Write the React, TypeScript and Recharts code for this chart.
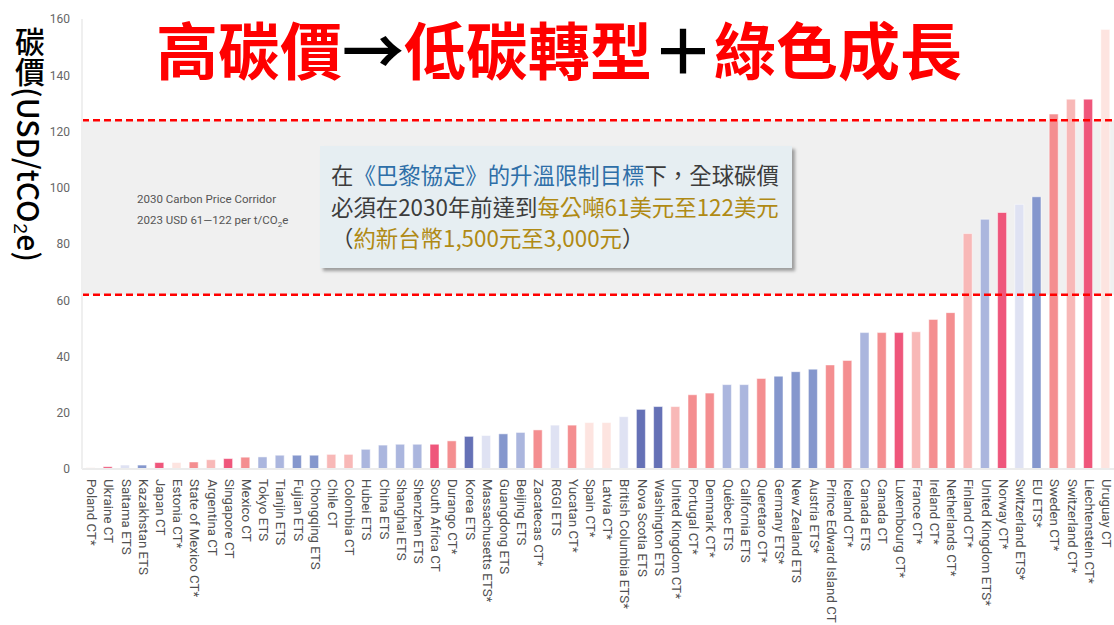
import React from 'react';
import { BarChart, Bar, Cell, XAxis, YAxis, ReferenceArea, ReferenceLine } from 'recharts';

// Carbon prices by jurisdiction (USD / tCO2e)
const jurisdictions = [
  'Poland CT*', 'Ukraine CT', 'Saitama ETS', 'Kazakhstan ETS', 'Japan CT', 'Estonia CT*',
  'State of Mexico CT*', 'Argentina CT', 'Singapore CT', 'Mexico CT', 'Tokyo ETS', 'Tianjin ETS',
  'Fujian ETS', 'Chongqing ETS', 'Chile CT', 'Colombia CT', 'Hubei ETS', 'China ETS',
  'Shanghai ETS', 'Shenzhen ETS', 'South Africa CT', 'Durango CT*', 'Korea ETS', 'Massachusetts ETS*',
  'Guangdong ETS', 'Beijing ETS', 'Zacatecas CT*', 'RGGI ETS', 'Yucatan CT*', 'Spain CT*',
  'Latvia CT*', 'British Columbia ETS*', 'Nova Scotia ETS', 'Washington ETS', 'United Kingdom CT*', 'Portugal CT*',
  'Denmark CT*', 'Québec ETS', 'California ETS', 'Queretaro CT*', 'Germany ETS*', 'New Zealand ETS',
  'Austria ETS*', 'Prince Edward Island CT', 'Iceland CT*', 'Canada ETS', 'Canada CT', 'Luxembourg CT*',
  'France CT*', 'Ireland CT*', 'Netherlands CT*', 'Finland CT*', 'United Kingdom ETS*', 'Norway CT*',
  'Switzerland ETS*', 'EU ETS*', 'Sweden CT*', 'Switzerland CT*', 'Liechtenstein CT*', 'Uruguay CT',
];

const prices = [
  0.5, 0.8, 1.4, 1.4, 2.3, 2.3,
  2.5, 3.3, 3.7, 4.2, 4.3, 4.9,
  4.9, 4.9, 5.2, 5.2, 7.0, 8.5,
  8.8, 8.8, 8.8, 10.0, 11.6, 11.9,
  12.5, 13.0, 13.9, 15.6, 15.6, 16.5,
  16.5, 18.6, 21.2, 22.2, 22.2, 26.4,
  27.0, 30.0, 30.0, 32.2, 33.0, 34.6,
  35.5, 37.0, 38.6, 48.5, 48.5, 48.5,
  48.8, 53.2, 55.6, 83.7, 88.8, 91.2,
  94.1, 96.8, 126.2, 131.5, 131.5, 156.3,
];

const tones = [
  'palePink', 'red', 'paleBlue', 'midBlue', 'red', 'palePink',
  'salmon', 'lightPink', 'red', 'salmon', 'lightBlue', 'lightBlue',
  'midBlue', 'midBlue', 'lightPink', 'lightPink', 'lightBlue', 'lightBlue',
  'lightBlue', 'lightBlue', 'red', 'salmon', 'darkBlue', 'paleBlue',
  'midBlue', 'lightBlue', 'salmon', 'paleBlue', 'salmon', 'palePink',
  'palePink', 'paleBlue', 'darkBlue', 'darkBlue', 'lightPink', 'salmon',
  'salmon', 'lightBlue', 'lightBlue', 'salmon', 'midBlue', 'midBlue',
  'midBlue', 'salmon', 'salmon', 'lightBlue', 'salmon', 'red',
  'lightPink', 'salmon', 'salmon', 'lightPink', 'lightBlue', 'red',
  'paleBlue', 'midBlue', 'salmon', 'lightPink', 'red', 'palePink',
];

const yTicks = [0, 20, 40, 60, 80, 100, 120, 140, 160];
const corridorLow = 62;
const corridorHigh = 124;

const palette: Record<string, string> = {
  palePink: '#fde4e0',
  lightPink: '#f8b8b7',
  salmon: '#f48e90',
  red: '#ef567b',
  paleBlue: '#dfe2f3',
  lightBlue: '#abb6de',
  midBlue: '#8597cd',
  darkBlue: '#6571b6',
};

const chartData = jurisdictions.map((name, i) => ({ name, price: prices[i], tone: tones[i] }));

const RotatedTick = (props: any) => {
  const { x, y, payload } = props;
  return (
    <text
      transform={`translate(${x + 1},${y}) rotate(90)`}
      textAnchor="start"
      dominantBaseline="central"
      fontSize={13.3}
      fontFamily="Roboto, sans-serif"
      fill="#505050"
    >
      {payload.value}
    </text>
  );
};

const cjk = '"Noto Sans CJK TC", "Noto Sans CJK SC", sans-serif';

export default function App() {
  return (
    <div style={{ position: 'absolute', left: 0, top: 0, width: 1114, height: 625, background: '#fff', overflow: 'hidden' }}>
      <BarChart
        width={1114}
        height={625}
        data={chartData}
        margin={{ top: 19, right: 0, left: 0, bottom: 0 }}
        barCategoryGap={4}
      >
        <ReferenceArea y1={corridorLow} y2={corridorHigh} fill="#f0f0f0" fillOpacity={1} stroke="none" />
        <XAxis
          dataKey="name"
          interval={0}
          height={156}
          tick={<RotatedTick />}
          tickLine={false}
          tickSize={0}
          tickMargin={10}
          axisLine={{ stroke: '#ececec', strokeWidth: 2 }}
        />
        <YAxis
          domain={[0, 160]}
          ticks={yTicks}
          width={82}
          tickLine={false}
          tickMargin={6}
          axisLine={{ stroke: '#efefef', strokeWidth: 2 }}
          tick={{ fontSize: 12, fill: '#666', fontFamily: 'Roboto, sans-serif' }}
        />
        <Bar dataKey="price" isAnimationActive={false} stroke="#ffffff" strokeOpacity={0.5} strokeWidth={1}>
          {chartData.map((d) => (
            <Cell key={d.name} fill={palette[d.tone]} />
          ))}
        </Bar>
        <ReferenceLine y={corridorHigh} stroke="#ff0000" strokeWidth={2.5} strokeDasharray="7 4" />
        <ReferenceLine y={corridorLow} stroke="#ff0000" strokeWidth={2.5} strokeDasharray="7 4" />
      </BarChart>

      {/* headline */}
      <div
        style={{
          position: 'absolute', left: 2, top: 8, width: 1114, textAlign: 'center',
          fontFamily: cjk, fontWeight: 700, fontSize: 62, lineHeight: '80px', color: '#ff0000', whiteSpace: 'nowrap',
        }}
      >
        高碳價<span style={{ color: '#000' }}>→</span>低碳轉型<span style={{ color: '#000' }}>＋</span>綠色成長
      </div>

      {/* y axis title */}
      <div
        style={{
          position: 'absolute', left: 12, top: 27, writingMode: 'vertical-rl',
          fontFamily: cjk, fontSize: 30, fontWeight: 500, color: '#000', whiteSpace: 'nowrap', lineHeight: '36px',
        }}
      >
        碳價(USD/tCO₂e)
      </div>

      {/* corridor note */}
      <div style={{ position: 'absolute', left: 137, top: 189, fontFamily: 'Roboto, sans-serif', fontSize: 11.5, color: '#555', lineHeight: '21px' }}>
        <div>2030 Carbon Price Corridor</div>
        <div>2023 USD 61—122 per t/CO<sub style={{ fontSize: 8 }}>2</sub>e</div>
      </div>

      {/* callout */}
      <div
        style={{
          position: 'absolute', left: 320, top: 146, width: 472, height: 122, boxSizing: 'border-box',
          background: '#e6eef2', boxShadow: '3px 3px 3px rgba(0,0,0,0.35)', padding: '13px 0 0 11px',
          fontFamily: cjk, fontSize: 22.4, lineHeight: '31.5px', color: '#3c3c3c', whiteSpace: 'nowrap',
        }}
      >
        <div>在<span style={{ color: '#2e6fa8' }}>《巴黎協定》的升溫限制目標</span>下，全球碳價</div>
        <div>必須在2030年前達到<span style={{ color: '#b08a14' }}>每公噸61美元至122美元</span></div>
        <div>（<span style={{ color: '#b08a14' }}>約新台幣1,500元至3,000元</span>）</div>
      </div>
    </div>
  );
}
